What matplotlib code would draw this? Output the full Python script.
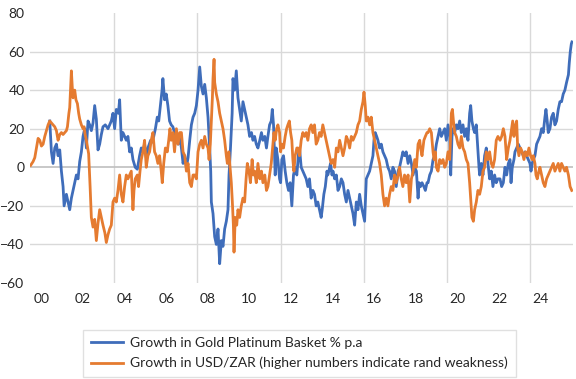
import matplotlib
matplotlib.use("Agg")
import matplotlib.pyplot as plt

gold_t = [2000.40, 2000.48, 2000.56, 2000.64, 2000.72, 2000.80, 2000.88, 2000.96, 2001.04, 2001.09,
          2001.20, 2001.28, 2001.36, 2001.44, 2001.52, 2001.60, 2001.68, 2001.76, 2001.84, 2001.92,
          2002.00, 2002.08, 2002.16, 2002.24, 2002.32, 2002.40, 2002.48, 2002.56, 2002.64, 2002.72,
          2002.80, 2002.88, 2002.96, 2003.07, 2003.20, 2003.28, 2003.36, 2003.44, 2003.52, 2003.60,
          2003.70, 2003.76, 2003.81, 2003.84, 2003.92, 2004.00, 2004.08, 2004.16, 2004.24, 2004.32,
          2004.40, 2004.51, 2004.61, 2004.72, 2004.80, 2004.88, 2004.96, 2005.04, 2005.12, 2005.25,
          2005.32, 2005.40, 2005.48, 2005.57, 2005.64, 2005.73, 2005.80, 2005.84, 2005.92, 2006.00,
          2006.08, 2006.16, 2006.24, 2006.32, 2006.40, 2006.49, 2006.57, 2006.65, 2006.73, 2006.81,
          2006.89, 2006.97, 2007.05, 2007.13, 2007.21, 2007.29, 2007.37, 2007.45, 2007.53, 2007.61,
          2007.69, 2007.77, 2007.85, 2007.93, 2008.01, 2008.09, 2008.14, 2008.17, 2008.25, 2008.33,
          2008.41, 2008.49, 2008.57, 2008.65, 2008.73, 2008.81, 2008.89, 2008.97, 2009.02, 2009.09,
          2009.17, 2009.21, 2009.29, 2009.37, 2009.45, 2009.53, 2009.61, 2009.69, 2009.77, 2009.85,
          2009.93, 2010.01, 2010.10, 2010.17, 2010.25, 2010.33, 2010.41, 2010.50, 2010.58, 2010.65,
          2010.74, 2010.82, 2010.89, 2010.97, 2011.05, 2011.10, 2011.16, 2011.21, 2011.24, 2011.29,
          2011.37, 2011.45, 2011.50, 2011.56, 2011.64, 2011.72, 2011.80, 2011.88, 2011.96, 2012.04,
          2012.12, 2012.20, 2012.28, 2012.37, 2012.41, 2012.49, 2012.57, 2012.65, 2012.73, 2012.81,
          2012.89, 2012.97, 2013.05, 2013.13, 2013.21, 2013.29, 2013.37, 2013.45, 2013.50, 2013.58,
          2013.65, 2013.73, 2013.77, 2013.82, 2013.90, 2013.97, 2014.02, 2014.10, 2014.18, 2014.26,
          2014.34, 2014.42, 2014.50, 2014.58, 2014.66, 2014.74, 2014.82, 2014.90, 2014.98, 2015.06,
          2015.14, 2015.22, 2015.30, 2015.38, 2015.46, 2015.54, 2015.62, 2015.70, 2015.78, 2015.86,
          2015.94, 2015.99, 2016.05, 2016.12, 2016.18, 2016.26, 2016.34, 2016.42, 2016.50, 2016.58,
          2016.66, 2016.74, 2016.82, 2016.90, 2016.98, 2017.06, 2017.15, 2017.22, 2017.30, 2017.38,
          2017.46, 2017.54, 2017.63, 2017.71, 2017.79, 2017.87, 2017.95, 2018.03, 2018.11, 2018.16,
          2018.23, 2018.30, 2018.39, 2018.46, 2018.54, 2018.59, 2018.67, 2018.75, 2018.83, 2018.91,
          2018.99, 2019.07, 2019.15, 2019.23, 2019.31, 2019.39, 2019.47, 2019.55, 2019.63, 2019.68,
          2019.74, 2019.79, 2019.87, 2019.95, 2020.03, 2020.11, 2020.19, 2020.27, 2020.35, 2020.43,
          2020.51, 2020.59, 2020.64, 2020.70, 2020.77, 2020.83, 2020.91, 2020.99, 2021.04, 2021.07,
          2021.15, 2021.23, 2021.31, 2021.39, 2021.47, 2021.55, 2021.63, 2021.71, 2021.79, 2021.87,
          2021.95, 2022.05, 2022.13, 2022.21, 2022.29, 2022.37, 2022.45, 2022.53, 2022.58, 2022.64,
          2022.72, 2022.77, 2022.85, 2022.93, 2023.01, 2023.09, 2023.17, 2023.25, 2023.33, 2023.41,
          2023.49, 2023.54, 2023.60, 2023.65, 2023.73, 2023.81, 2023.89, 2023.97, 2024.05, 2024.13,
          2024.21, 2024.26, 2024.32, 2024.37, 2024.45, 2024.53, 2024.61, 2024.69, 2024.77, 2024.85,
          2024.93, 2025.01, 2025.09, 2025.17, 2025.25, 2025.34, 2025.38, 2025.43, 2025.48, 2025.51]
gold_v = [24, 8, 2, 10, 12, 6, 9, -2, -10, -20,
          -14, -18, -22, -16, -12, -8, -4, -6, 3, 8,
          16, 20, 10, 24, 22, 19, 23, 32, 25, 9,
          12, 17, 21, 22, 20, 22, 24, 28, 20, 30,
          28, 35, 22, 14, 18, 16, 14, 16, 8, 10,
          4, 0, -1, 6, 10, 8, 12, 5, 10, 14,
          13, 16, 20, 26, 24, 33, 40, 46, 35, 38,
          32, 24, 22, 21, 18, 14, 12, 16, 10, 2,
          6, 0, 5, 14, 22, 26, 28, 32, 40, 52,
          42, 38, 43, 36, 26, 10, -2, -18, -24, -36,
          -40, -32, -50, -38, -41, -32, -28, -22, -4, 10,
          28, 46, 40, 50, 36, 30, 24, 34, 30, 26,
          22, 16, 18, 14, 16, 12, 10, 14, 18, 14,
          16, 10, 16, 22, 24, 30, 22, 6, -4, 10,
          4, -6, -8, 4, 6, -2, -8, -12, -8, -20,
          -4, 0, -4, 8, 10, 0, -2, -4, -6, -10,
          -6, -16, -12, -14, -20, -18, -22, -26, -22, -14,
          -10, -2, -4, -2, 2, -4, -2, -6, -4, -12,
          -10, -6, -8, -14, -18, -12, -16, -20, -24, -30,
          -18, -22, -14, -20, -24, -28, -6, -4, -2, 2,
          6, 14, 18, 16, 14, 10, 12, 8, 6, 4,
          0, -2, -6, 0, -2, -10, -2, 0, 4, 8,
          6, 8, 2, 6, 2, -4, 0, -2, -16, -8,
          -10, -8, -10, -12, -8, -8, -4, -2, 4, 6,
          12, 16, 20, 16, 18, 20, 14, 22, 16, -4,
          16, 20, 18, 22, 20, 24, 18, 22, 16, 20,
          14, 28, 32, 24, 20, 18, 22, 8, 0, -4,
          2, -4, 6, 10, 2, -6, -2, -10, -4, -8,
          -6, -6, -10, -8, 0, -4, 2, 4, -8, 0,
          4, 8, 10, 12, 10, 8, 6, 8, 6, 4,
          2, -2, 2, 4, 6, 12, 14, 16, 20, 18,
          26, 30, 24, 18, 20, 26, 28, 22, 24, 30,
          34, 34, 38, 40, 44, 48, 54, 60, 64, 65]

zar_t = [1999.48, 1999.60, 1999.68, 1999.76, 1999.84, 1999.92, 2000.00, 2000.08, 2000.16, 2000.24,
         2000.32, 2000.40, 2000.48, 2000.56, 2000.64, 2000.72, 2000.80, 2000.88, 2000.96, 2001.04,
         2001.12, 2001.20, 2001.25, 2001.32, 2001.36, 2001.44, 2001.48, 2001.52, 2001.60, 2001.66,
         2001.73, 2001.79, 2001.84, 2001.92, 2002.00, 2002.05, 2002.10, 2002.16, 2002.22, 2002.27,
         2002.34, 2002.40, 2002.48, 2002.56, 2002.64, 2002.72, 2002.80, 2002.88, 2002.96, 2003.05,
         2003.12, 2003.20, 2003.28, 2003.36, 2003.44, 2003.52, 2003.60, 2003.68, 2003.76, 2003.84,
         2003.92, 2004.00, 2004.08, 2004.16, 2004.24, 2004.32, 2004.40, 2004.45, 2004.51, 2004.61,
         2004.67, 2004.74, 2004.80, 2004.88, 2004.96, 2005.04, 2005.12, 2005.20, 2005.28, 2005.36,
         2005.44, 2005.52, 2005.60, 2005.68, 2005.76, 2005.81, 2005.88, 2005.96, 2006.05, 2006.12,
         2006.18, 2006.24, 2006.32, 2006.40, 2006.49, 2006.57, 2006.65, 2006.73, 2006.81, 2006.89,
         2006.97, 2007.05, 2007.13, 2007.21, 2007.29, 2007.37, 2007.45, 2007.53, 2007.61, 2007.69,
         2007.77, 2007.85, 2007.93, 2008.01, 2008.06, 2008.12, 2008.17, 2008.22, 2008.25, 2008.30,
         2008.33, 2008.41, 2008.49, 2008.57, 2008.65, 2008.73, 2008.81, 2008.89, 2008.94, 2009.01,
         2009.07, 2009.13, 2009.18, 2009.23, 2009.26, 2009.32, 2009.39, 2009.45, 2009.53, 2009.61,
         2009.69, 2009.77, 2009.84, 2009.90, 2009.98, 2010.05, 2010.13, 2010.19, 2010.25, 2010.33,
         2010.41, 2010.50, 2010.58, 2010.65, 2010.74, 2010.82, 2010.89, 2010.97, 2011.05, 2011.13,
         2011.18, 2011.24, 2011.31, 2011.37, 2011.45, 2011.50, 2011.56, 2011.64, 2011.72, 2011.79,
         2011.85, 2011.92, 2011.98, 2012.04, 2012.09, 2012.14, 2012.20, 2012.28, 2012.33, 2012.41,
         2012.49, 2012.57, 2012.65, 2012.73, 2012.81, 2012.89, 2012.97, 2013.05, 2013.13, 2013.21,
         2013.29, 2013.37, 2013.45, 2013.53, 2013.61, 2013.69, 2013.77, 2013.85, 2013.93, 2014.02,
         2014.10, 2014.18, 2014.26, 2014.34, 2014.42, 2014.50, 2014.58, 2014.66, 2014.74, 2014.82,
         2014.90, 2014.98, 2015.06, 2015.14, 2015.22, 2015.30, 2015.38, 2015.46, 2015.51, 2015.57,
         2015.62, 2015.70, 2015.78, 2015.86, 2015.94, 2016.02, 2016.10, 2016.18, 2016.26, 2016.34,
         2016.42, 2016.50, 2016.58, 2016.66, 2016.74, 2016.82, 2016.90, 2016.98, 2017.06, 2017.15,
         2017.22, 2017.30, 2017.38, 2017.46, 2017.54, 2017.63, 2017.71, 2017.79, 2017.87, 2017.95,
         2018.03, 2018.11, 2018.19, 2018.23, 2018.30, 2018.39, 2018.46, 2018.54, 2018.59, 2018.67,
         2018.75, 2018.83, 2018.88, 2018.94, 2018.99, 2019.07, 2019.15, 2019.23, 2019.31, 2019.39,
         2019.47, 2019.55, 2019.63, 2019.68, 2019.71, 2019.76, 2019.81, 2019.87, 2019.95, 2020.03,
         2020.11, 2020.19, 2020.27, 2020.35, 2020.43, 2020.51, 2020.59, 2020.64, 2020.70, 2020.77,
         2020.83, 2020.91, 2020.99, 2021.07, 2021.15, 2021.23, 2021.31, 2021.39, 2021.47, 2021.55,
         2021.63, 2021.71, 2021.79, 2021.87, 2021.95, 2022.05, 2022.13, 2022.21, 2022.29, 2022.37,
         2022.45, 2022.53, 2022.61, 2022.66, 2022.72, 2022.80, 2022.85, 2022.90, 2022.96, 2023.04,
         2023.12, 2023.20, 2023.28, 2023.36, 2023.44, 2023.52, 2023.60, 2023.65, 2023.73, 2023.78,
         2023.84, 2023.92, 2023.97, 2024.05, 2024.13, 2024.21, 2024.29, 2024.37, 2024.45, 2024.53,
         2024.61, 2024.69, 2024.77, 2024.85, 2024.93, 2025.01, 2025.09, 2025.17, 2025.25, 2025.34,
         2025.42, 2025.50]
zar_v = [1, 3, 5, 10, 15, 14, 11, 12, 16, 19,
         22, 24, 23, 22, 21, 19, 14, 17, 18, 17,
         18, 19, 21, 28, 31, 50, 42, 36, 40, 35,
         33, 28, 25, 22, 20, 21, 17, 14, 10, 7,
         -10, -26, -31, -27, -38, -29, -22, -26, -30, -34,
         -39, -35, -32, -30, -18, -16, -18, -12, -4, -14,
         -18, -10, -4, -6, -4, -2, -22, -12, -6, -4,
         -10, -2, 4, 8, 14, 0, 6, 8, 14, 18,
         8, 6, 2, 6, -2, -8, 2, 10, 8, 14,
         20, 14, 18, 8, 20, 12, 18, 18, 8, 6,
         -2, 2, -8, -10, -4, -4, -6, 8, 12, 14,
         10, 16, 12, 10, 4, 12, 24, 36, 46, 56,
         44, 38, 34, 28, 24, 20, 14, 6, 2, 8,
         0, -8, -18, -30, -44, -26, -30, -22, -26, -20,
         -16, -18, -6, 2, -2, -8, 4, -4, -2, -8,
         2, -6, -2, -8, -4, -12, -10, -4, 2, 12,
         18, 14, 20, 22, 18, 8, 12, 10, 16, 20,
         22, 24, 18, 14, 4, -2, 6, 10, 10, 6,
         14, 18, 16, 18, 14, 20, 22, 18, 22, 12,
         14, 18, 16, 22, 18, 14, 10, 6, 2, 4,
         0, 10, 8, 14, 10, 6, 10, 16, 14, 10,
         16, 14, 16, 18, 22, 24, 30, 34, 39, 32,
         24, 26, 22, 26, 18, 14, 10, 6, 2, -4,
         -14, -20, -16, -20, -14, -10, -12, -4, -8, -4,
         0, -6, -10, -4, -8, -4, -18, -6, -2, 4,
         0, 12, 14, 10, 6, 14, 16, 18, 18, 20,
         18, 8, 4, 8, 0, -2, 4, 2, 4, 0,
         2, 8, 4, 18, 28, 30, 24, 18, 16, 12,
         10, 16, 10, 8, 4, 2, -8, -16, -26, -28,
         -22, -18, -12, -14, -10, -2, 0, 8, 4, 8,
         2, 0, 4, 14, 16, 14, 16, 20, 16, 4,
         10, 14, 20, 24, 16, 22, 24, 10, 6, 10,
         8, 4, 8, 6, 10, 6, 4, 6, 2, -4,
         -6, -2, 0, -4, -8, -10, -6, -4, -2, 0,
         2, -2, 0, 2, -2, 2, 0, -2, 0, -4,
         -10, -12]

labels = ["Growth in Gold Platinum Basket % p.a",
          "Growth in USD/ZAR (higher numbers indicate rand weakness)"]
year_ticks = list(range(2000, 2025, 2))
year_labels = ["%02d" % (y % 100) for y in year_ticks]
grid_years = [2003.5, 2007.5, 2011.5, 2015.5, 2019.5, 2023.5]

plt.rcParams['font.family'] = ['Lato', 'DejaVu Sans']

fig = plt.figure(figsize=(5.76, 3.79), dpi=100)
ax = fig.add_axes([30/576, 1 - 283/379, 543/576, 270/379])

blue = '#3F6DBA'
orange = '#E57B30'
ax.plot(gold_t, gold_v, color=blue, lw=2.0, label=labels[0], zorder=3)
ax.plot(zar_t, zar_v, color=orange, lw=2.0, label=labels[1], zorder=4)

ax.set_xlim(1999.45, 2025.56)
ax.set_ylim(-60, 80)
ax.set_yticks(range(-60, 81, 20))
for y in range(-40, 61, 20):
    if y != 0:
        ax.axhline(y, color='#D9D9D9', lw=1.0, zorder=1)
ax.axhline(0, color='#BFBFBF', lw=1.2, zorder=2)
for g in grid_years:
    ax.axvline(g, color='#D9D9D9', lw=1.0, zorder=1)

ax.set_xticks(year_ticks)
ax.set_xticklabels(year_labels)
ax.tick_params(axis='both', length=0, labelsize=10, colors='#262626')
ax.tick_params(axis='x', pad=7)
ax.tick_params(axis='y', pad=4)
for s in ax.spines.values():
    s.set_visible(False)

leg = fig.legend(loc='lower left', bbox_to_anchor=(83/576, 2/379, 433/576, 50/379),
                 mode='expand', ncol=1, frameon=True, fancybox=False,
                 fontsize=10, handlelength=2.3, handletextpad=0.55,
                 labelspacing=0.55, borderpad=0.55, borderaxespad=0)
leg.get_frame().set_edgecolor('#D9D9D9')
leg.get_frame().set_linewidth(1.0)
for t in leg.get_texts():
    t.set_color('#262626')
for l in leg.get_lines():
    l.set_linewidth(2.0)

fig.savefig('out.png', dpi=100)
